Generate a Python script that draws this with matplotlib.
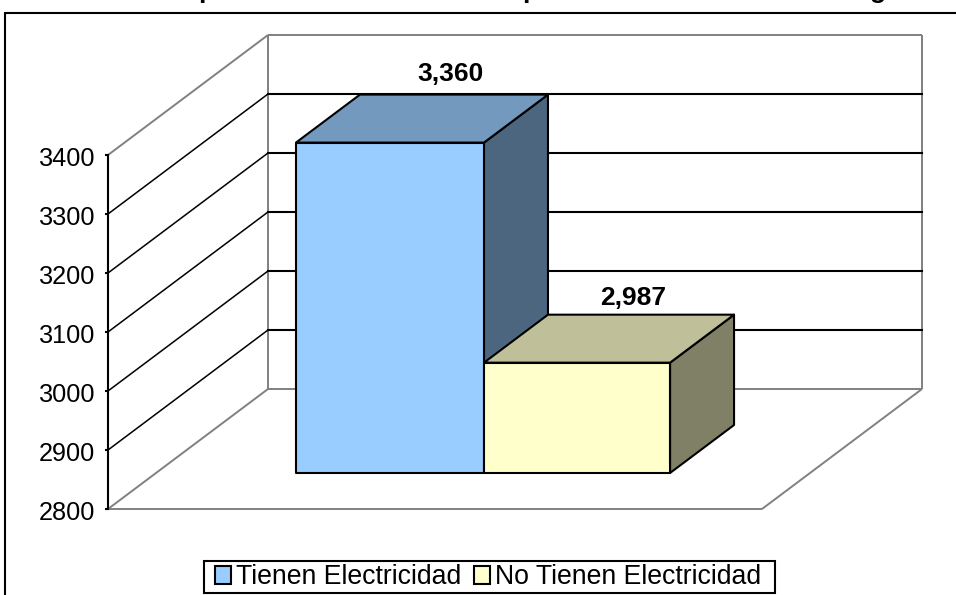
import matplotlib
matplotlib.use("Agg")
import matplotlib.pyplot as plt
from matplotlib.patches import Polygon, Rectangle
from matplotlib.transforms import ScaledTranslation

plt.rcParams['font.family'] = ['Liberation Sans', 'DejaVu Sans']

series = ["Tienen Electricidad", "No Tienen Electricidad"]
values = [3360, 2987]
labels = ["3,360", "2,987"]
yticks = [2800, 2900, 3000, 3100, 3200, 3300, 3400]
front_colors = ["#99CCFF", "#FFFFCC"]
top_colors = ["#7399BF", "#BFBF99"]
side_colors = ["#4D6680", "#808066"]

W, H = 956, 595
fig = plt.figure(figsize=(W/100, H/100), dpi=100)
fig.patch.set_facecolor("white")

# outer frame
fig.add_artist(Rectangle((4.5/W, -0.02), 1.0, 1 - 13/H + 0.02, transform=fig.transFigure,
                         fill=False, ec="black", lw=1.5))

L, R, B, T = 108, 762, 509, 155
ax = fig.add_axes([L/W, 1-B/H, (R-L)/W, (B-T)/H])
ax.set_xlim(0, 1)
ax.set_ylim(yticks[0], yticks[-1])
ax.patch.set_alpha(0)
for s in ["top", "right", "bottom"]:
    ax.spines[s].set_visible(False)
ax.spines["left"].set_linewidth(1.5)
ax.set_xticks([])
ax.set_yticks(yticks)
ax.tick_params(axis="y", length=2.5, width=1.5, labelsize=18.2, pad=6.8, colors="black")
shift = ScaledTranslation(0, -1.5/100, fig.dpi_scale_trans)
for lab in ax.get_yticklabels():
    lab.set_transform(lab.get_transform() + shift)

# oblique depth: one full depth step in data units
yrange = yticks[-1] - yticks[0]
DX = 160 / (R - L)
DY = 120 / (B - T) * yrange


def P(x, y, d=0.0):
    return (x + d*DX, y + d*DY)


grey = "#808080"
y0, y1 = yticks[0], yticks[-1]
wall = dict(color=grey, lw=1.4, zorder=1, clip_on=False, solid_capstyle="butt")
ax.plot(*zip(P(0, y0), P(1, y0)), **wall)
ax.plot(*zip(P(0, y0), P(0, y0, 1)), **wall)
ax.plot(*zip(P(1, y0), P(1, y0, 1)), **wall)
ax.plot(*zip(P(0, y0, 1), P(1, y0, 1)), **wall)
ax.plot(*zip(P(0, y0, 1), P(0, y1, 1)), **wall)
ax.plot(*zip(P(1, y0, 1), P(1, y1, 1)), **wall)
ax.plot(*zip(P(0, y1, 1), P(1, y1, 1)), **wall)
ax.plot(*zip(P(0, y1), P(0, y1, 1)), **wall)
for t in yticks[1:-1]:
    ax.plot(*zip(P(0, t), P(0, t, 1)), color="black", lw=1.1, zorder=2, clip_on=False)
    ax.plot(*zip(P(0, t, 1), P(1, t, 1)), color="black", lw=1.5, zorder=2, clip_on=False)

edges = [0.214, 0.5015, 0.786]
d0, d1 = 0.3, 0.7
label_offsets = [(-3.5, 9), (-8, 5)]  # pixels from the bar's rear top edge centre
for i, v in enumerate(values):
    xa, xb = edges[i], edges[i+1]
    kw = dict(ec="black", lw=1.5, joinstyle="round", clip_on=False, zorder=5 + i)
    ax.add_patch(Polygon([P(xb, y0, d0), P(xb, y0, d1), P(xb, v, d1), P(xb, v, d0)], fc=side_colors[i], **kw))
    ax.add_patch(Polygon([P(xa, v, d0), P(xb, v, d0), P(xb, v, d1), P(xa, v, d1)], fc=top_colors[i], **kw))
    ax.add_patch(Polygon([P(xa, y0, d0), P(xb, y0, d0), P(xb, v, d0), P(xa, v, d0)], fc=front_colors[i], **kw))
    cx, cy = P((xa + xb)/2, v, d1)
    ox, oy = label_offsets[i]
    ax.annotate(labels[i], (cx, cy), xytext=(ox*0.72, oy*0.72), textcoords="offset points", ha="center", va="bottom",
                fontsize=19, fontweight="bold", annotation_clip=False, zorder=10)

# title cut off by the top of the picture: only descenders remain
for ch, px in [("p", 206), ("p", 530), ("g", 878)]:
    fig.text(px/W, 1 + 2/H, ch, ha="center", va="baseline", fontsize=19, fontweight="bold")

handles = [Rectangle((0, 0), 1, 1, fc=c, ec="black", lw=1.5) for c in front_colors]
fig.add_artist(Rectangle((204/W, 1-593/H), 571/W, 32/H, transform=fig.transFigure,
                         fc="white", ec="black", lw=1.5))
leg = fig.legend(handles, series, loc="center", bbox_to_anchor=(488/W, 1-577/H), ncol=2, fontsize=19.2,
                 frameon=False, handlelength=0.6, handleheight=0.66, handletextpad=0.2, columnspacing=0.45,
                 borderpad=0, borderaxespad=0)

fig.savefig("out.png", dpi=100)
